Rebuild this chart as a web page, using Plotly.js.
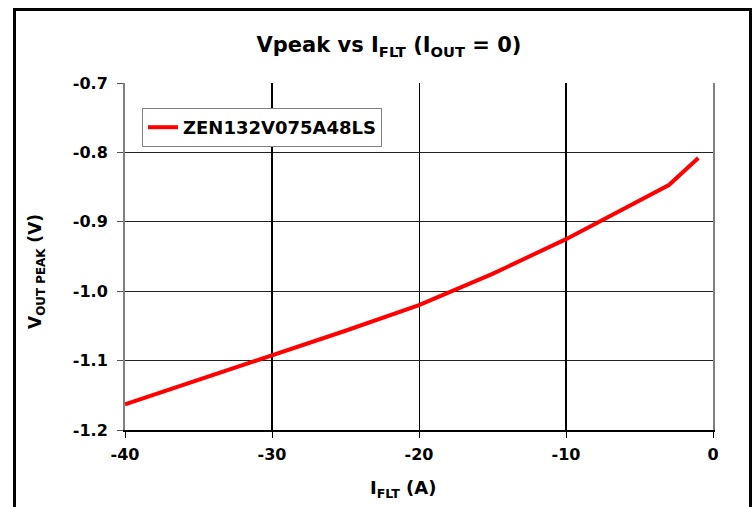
<!DOCTYPE html>
<html>
<head>
<meta charset="utf-8">
<script src="https://cdn.plot.ly/plotly-3.0.1.min.js"></script>
<style>
  html, body { margin: 0; padding: 0; background: #fff; }
  #wrap { position: relative; width: 754px; height: 507px; overflow: hidden; }
  #chart { position: absolute; left: 0; top: 0; width: 754px; height: 507px; }
  #frame { position: absolute; left: 13px; top: 8px; width: 733px; height: 520px;
           border: 3px solid #000; pointer-events: none; }
</style>
</head>
<body>
<div id="wrap">
  <div id="chart"></div>
  <div id="frame"></div>
</div>
<script>
// Data
const seriesName = "ZEN132V075A48LS";
const iFlt  = [-40, -35, -30, -25, -20, -15, -10, -5, -3, -1];
const vPeak = [-1.163, -1.128, -1.092, -1.057, -1.020, -0.975, -0.925, -0.869, -0.847, -0.808];
const xTicks = [-40, -30, -20, -10, 0];
const yTicks = [-0.7, -0.8, -0.9, -1.0, -1.1, -1.2];
const yTickText = ["-0.7", "-0.8", "-0.9", "-1.0", "-1.1", "-1.2"];
const titleText = "Vpeak vs I<sub>FLT</sub> (I<sub>OUT</sub> = 0)";
const xTitleText = "I<sub>FLT</sub> (A)";
const yTitleText = "V<sub>OUT PEAK</sub> (V)";

const FONT = "DejaVu Sans, Verdana, sans-serif";
const W = 754, H = 507, ML = 125, MR = 41, MT = 83, MB = 77;
const PW = W - ML - MR, PH = H - MT - MB;

const traces = [{
  x: iFlt, y: vPeak, type: "scatter", mode: "lines", name: seriesName,
  line: { color: "#ff0000", width: 4 }
}, {
  // invisible helper on the overlay axis that draws the heavier gridlines
  x: iFlt, y: vPeak, xaxis: "x2", type: "scatter", mode: "lines",
  line: { color: "rgba(0,0,0,0)" }, showlegend: false, hoverinfo: "skip"
}];

const layout = {
  width: W, height: H,
  margin: { l: ML, r: MR, t: MT, b: MB },
  paper_bgcolor: "#fff", plot_bgcolor: "#fff",
  font: { family: FONT, color: "#000", weight: 700 },
  title: {
    text: titleText,
    font: { family: FONT, size: 21, color: "#000", weight: 700 },
    xref: "container", x: 389 / W, xanchor: "center",
    yref: "container", y: 1 - 45 / H, yanchor: "middle"
  },
  xaxis: {
    range: [-40, 0], tickvals: xTicks, ticktext: xTicks.map(String),
    showgrid: true, gridcolor: "#000", gridwidth: 1,
    showline: true, linecolor: "#000", linewidth: 2,
    ticks: "outside", ticklen: 6, tickcolor: "#000", tickwidth: 1,
    ticklabelstandoff: 3,
    zeroline: false,
    tickfont: { family: FONT, size: 16, weight: 700 }
  },
  xaxis2: {
    overlaying: "x", range: [-40, 0], tickvals: [-30, -10],
    showgrid: true, gridcolor: "#000", gridwidth: 2.5,
    showticklabels: false, ticks: "", showline: false, zeroline: false
  },
  yaxis: {
    range: [-1.2, -0.7], tickvals: yTicks, ticktext: yTickText,
    showgrid: true, gridcolor: "#222", gridwidth: 1,
    showline: true, linecolor: "#808080", linewidth: 2, mirror: true,
    ticks: "outside", ticklen: 6, tickcolor: "#555", tickwidth: 1,
    ticklabelstandoff: 6,
    zeroline: false,
    tickfont: { family: FONT, size: 16, weight: 700 }
  },
  annotations: [{
    text: xTitleText, xref: "paper", yref: "paper",
    x: (403 - ML) / PW, y: -(489 - MT - PH) / PH, xanchor: "center", yanchor: "middle",
    showarrow: false, font: { family: FONT, size: 18, weight: 700 }
  }, {
    text: yTitleText, xref: "paper", yref: "paper", textangle: -90,
    x: (36 - ML) / PW, y: 1 - (272 - MT) / PH, xanchor: "center", yanchor: "middle",
    showarrow: false, font: { family: FONT, size: 17, weight: 700 }
  }],
  showlegend: true,
  legend: {
    x: 17 / PW, y: 1 - 25 / PH, xanchor: "left", yanchor: "top",
    bgcolor: "#fff", bordercolor: "#808080", borderwidth: 1,
    font: { family: FONT, size: 18, weight: 700 },
    itemwidth: 30, tracegroupgap: 0
  }
};

Plotly.newPlot("chart", traces, layout, { staticPlot: true, displayModeBar: false });
</script>
</body>
</html>
